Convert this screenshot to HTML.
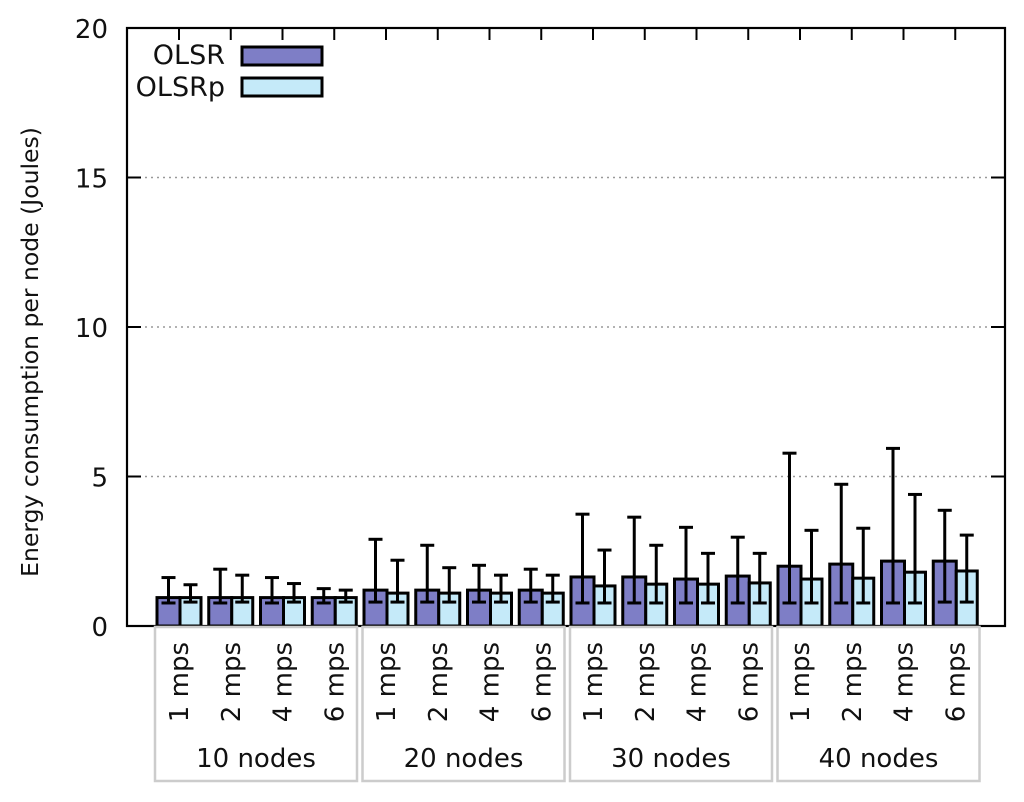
<!DOCTYPE html>
<html><head><meta charset="utf-8"><style>
body{margin:0;background:#fff}
svg{display:block;font-family:"DejaVu Sans","Liberation Sans",sans-serif}
</style></head><body>
<svg id="chart" width="1024" height="802" viewBox="0 0 1024 802" xmlns="http://www.w3.org/2000/svg">
<g id="grid"></g><g id="bars"></g><g id="axes"></g><g id="labels"></g>
<g>
<text x="225" y="64" font-size="27" text-anchor="end" fill="#111">OLSR</text>
<rect x="242" y="47" width="80" height="18" fill="#7e7ec6" stroke="#000" stroke-width="3"/>
<text x="225" y="96" font-size="27" text-anchor="end" fill="#111">OLSRp</text>
<rect x="242" y="78" width="80" height="18" fill="#c5eaf9" stroke="#000" stroke-width="3"/>
</g>
<text transform="translate(38,352) rotate(-90)" font-size="23.5" text-anchor="middle" fill="#111">Energy consumption per node (Joules)</text>
</svg>
<script>
const groups=["10 nodes","20 nodes","30 nodes","40 nodes"];
const speeds=["1 mps","2 mps","4 mps","6 mps"];
const olsr=[0.95,0.95,0.95,0.95, 1.2,1.2,1.2,1.2, 1.64,1.64,1.57,1.67, 2.0,2.07,2.17,2.17];
const olsrHi=[1.62,1.9,1.62,1.25, 2.9,2.7,2.03,1.9, 3.74,3.64,3.3,2.97, 5.78,4.74,5.94,3.87];
const olsrLo=[0.77,0.77,0.77,0.77, 0.8,0.8,0.8,0.8, 0.77,0.77,0.77,0.77, 0.77,0.77,0.77,0.8];
const olsrp=[0.95,0.95,0.95,0.95, 1.1,1.1,1.1,1.1, 1.34,1.4,1.4,1.44, 1.57,1.6,1.8,1.84];
const olsrpHi=[1.38,1.7,1.42,1.2, 2.2,1.95,1.7,1.7, 2.54,2.7,2.43,2.43, 3.2,3.27,4.4,3.04];
const olsrpLo=[0.8,0.8,0.8,0.8, 0.8,0.8,0.8,0.8, 0.77,0.77,0.77,0.77, 0.77,0.77,0.77,0.8];
const yTicks=[0,5,10,15,20];

const NS="http://www.w3.org/2000/svg";
const L=127,R=1005,T=28,B=626;
const y=v=>B-(v/20)*(B-T);
const x0=i=>157+51.75*i;
function mk(tag,parent,attrs){const e=document.createElementNS(NS,tag);for(const k in attrs)e.setAttribute(k,attrs[k]);document.getElementById(parent).appendChild(e);return e;}

yTicks.forEach(t=>{
  if(t>0&&t<20){const g=mk('line','grid',{x1:L,x2:R,y1:y(t),y2:y(t),stroke:'#999','stroke-width':1.5,'stroke-dasharray':'2,4'});
  
  }
  mk('line','axes',{x1:L,x2:L+14,y1:y(t),y2:y(t),stroke:'#000','stroke-width':2});
  mk('line','axes',{x1:R,x2:R-14,y1:y(t),y2:y(t),stroke:'#000','stroke-width':2});
  const tx=mk('text','labels',{x:108,y:y(t)+10,'font-size':26,'text-anchor':'end',fill:'#111'});
  tx.textContent=t;
  
  
});
const frame=mk('rect','axes',{x:L,y:T,width:R-L,height:B-T,fill:'none',stroke:'#000','stroke-width':2.2});



function err(cx,lo,hi,name){
  const g=mk('g','bars',{stroke:'#000','stroke-width':3});
  
  
  [[cx,y(lo),cx,y(hi)],[cx-7,y(hi),cx+7,y(hi)],[cx-7,y(lo),cx+7,y(lo)]].forEach(a=>{
    const l=document.createElementNS(NS,'line');l.setAttribute('x1',a[0]);l.setAttribute('y1',a[1]);l.setAttribute('x2',a[2]);l.setAttribute('y2',a[3]);g.appendChild(l);});
}
olsr.forEach((v,i)=>{
  const s=x0(i);
  const b1=mk('rect','bars',{x:s,y:y(v),width:23,height:B-y(v),fill:'#7e7ec6',stroke:'#000','stroke-width':3});
  
  
  const b2=mk('rect','bars',{x:s+23,y:y(olsrp[i]),width:21,height:B-y(olsrp[i]),fill:'#c5eaf9',stroke:'#000','stroke-width':3});
  
  
  err(s+11.5,olsrLo[i],olsrHi[i],'errorbar-olsr-'+i);
  err(s+33.5,olsrpLo[i],olsrpHi[i],'errorbar-olsrp-'+i);
  const cx=s+22;
  mk('line','axes',{x1:cx,x2:cx,y1:T,y2:T+12,stroke:'#000','stroke-width':2});
  const t=mk('text','labels',{transform:`translate(${cx+9},642) rotate(-90)`,'font-size':26,'text-anchor':'end',fill:'#111'});
  t.textContent=speeds[i%4];
  
  
});
groups.forEach((g,k)=>{
  const xs=155+207.5*k;
  const r=mk('rect','labels',{x:xs,y:627,width:202,height:154,fill:'none',stroke:'#ccc','stroke-width':2.5});
  
  
  const t=mk('text','labels',{x:xs+101,y:767,'font-size':26,'text-anchor':'middle',fill:'#111'});
  t.textContent=g;
  
  
});
</script>
</body></html>
